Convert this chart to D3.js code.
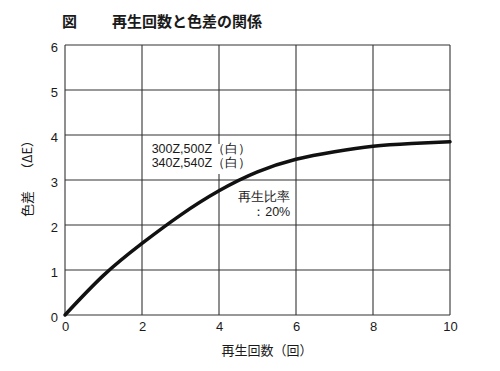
<!DOCTYPE html>
<html>
<head>
<meta charset="utf-8">
<script src="https://cdn.jsdelivr.net/npm/d3@7"></script>
<style>
  body { margin: 0; background: #fff; }
  text { font-family: "Liberation Sans", Arial, sans-serif; fill: #1a1a1a; }
  .jp { font-family: "Noto Sans CJK JP", sans-serif; }
</style>
</head>
<body>
<svg id="chart" width="500" height="371"></svg>
<script>
//data
var counts = [0, 1, 2, 3, 4, 5, 6, 7, 8, 9, 10];
var deltaE = [0, 0.88, 1.59, 2.22, 2.76, 3.18, 3.46, 3.63, 3.75, 3.81, 3.85];
var xTicks = [0, 2, 4, 6, 8, 10];
var yTicks = [0, 1, 2, 3, 4, 5, 6];

var svg = d3.select("#chart"),
  margin = { top: 45, right: 50, bottom: 56, left: 65 },
  width = +svg.attr("width") - margin.left - margin.right,
  height = +svg.attr("height") - margin.top - margin.bottom;

svg.append("rect").attr("width", 500).attr("height", 371).attr("fill", "#fff");

var x = d3.scaleLinear().domain([0, 10]).range([0, width]),
  y = d3.scaleLinear().domain([0, 6]).range([height, 0]);

var g = svg.append("g")
  .attr("transform", "translate(" + margin.left + "," + margin.top + ")");

// -- grid
g.selectAll(".vgrid").data(xTicks).enter().append("line")
  .attr("x1", function(d) { return x(d); })
  .attr("x2", function(d) { return x(d); })
  .attr("y1", 0).attr("y2", height)
  .attr("stroke", "#333").attr("stroke-width", 1.1);
g.selectAll(".hgrid").data(yTicks).enter().append("line")
  .attr("y1", function(d) { return y(d); })
  .attr("y2", function(d) { return y(d); })
  .attr("x1", 0).attr("x2", width)
  .attr("stroke", "#333").attr("stroke-width", 1.1);

// -- axes (labels only)
var xAxis = g.append("g")
  .attr("transform", "translate(0," + height + ")")
  .call(d3.axisBottom(x).tickValues(xTicks).tickFormat(d3.format("d")).tickSize(0).tickPadding(7));
var yAxis = g.append("g")
  .call(d3.axisLeft(y).tickValues(yTicks).tickFormat(d3.format("d")).tickSize(0).tickPadding(7));
[xAxis, yAxis].forEach(function(a) {
  a.select(".domain").remove();
  a.selectAll("text").attr("font-size", 13).attr("fill", "#1a1a1a")
    .attr("font-family", "'Liberation Sans', Arial, sans-serif");
});
yAxis.selectAll("text").attr("dy", "0.5em");

// -- annotation text with white backing
var notes = g.append("g").attr("class", "jp");
notes.append("rect")
  .attr("x", x(2.25)).attr("y", y(3.8))
  .attr("width", 102).attr("height", 30).attr("fill", "#fff");
notes.append("text").attr("x", x(2.25)).attr("y", y(3.6))
  .attr("font-size", 12.5).text("300Z,500Z（白）");
notes.append("text").attr("x", x(2.25)).attr("y", y(3.28))
  .attr("font-size", 12.5).text("340Z,540Z（白）");
notes.append("text").attr("x", x(5.85)).attr("y", y(2.53))
  .attr("font-size", 12.5).attr("text-anchor", "end").text("再生比率");
notes.append("text").attr("x", x(5.85)).attr("y", y(2.19))
  .attr("font-size", 12.5).attr("text-anchor", "end").text("：20%");

// -- curve
var line = d3.line()
  .x(function(d, i) { return x(counts[i]); })
  .y(function(d) { return y(d); })
  .curve(d3.curveNatural);
g.append("path").datum(deltaE)
  .attr("d", line)
  .attr("fill", "none")
  .attr("stroke", "#111")
  .attr("stroke-width", 3.5)
  .attr("stroke-linecap", "round");

// -- titles
svg.append("text").attr("class", "jp")
  .attr("x", 62).attr("y", 27).attr("font-size", 15).attr("font-weight", "bold")
  .text("図");
svg.append("text").attr("class", "jp")
  .attr("x", 112).attr("y", 27).attr("font-size", 15).attr("font-weight", "bold")
  .text("再生回数と色差の関係");
svg.append("text").attr("class", "jp")
  .attr("x", 267).attr("y", 355).attr("font-size", 13).attr("text-anchor", "middle")
  .text("再生回数（回）");
// -- y label in two pieces, as spaced in the picture
svg.append("text").attr("class", "jp")
  .attr("transform", "translate(32,204) rotate(-90)")
  .attr("font-size", 13).attr("text-anchor", "middle")
  .text("色差");
svg.append("text").attr("class", "jp")
  .attr("transform", "translate(32,155) rotate(-90)")
  .attr("font-size", 13).attr("text-anchor", "middle")
  .text("（ΔE）");
</script>
</body>
</html>
